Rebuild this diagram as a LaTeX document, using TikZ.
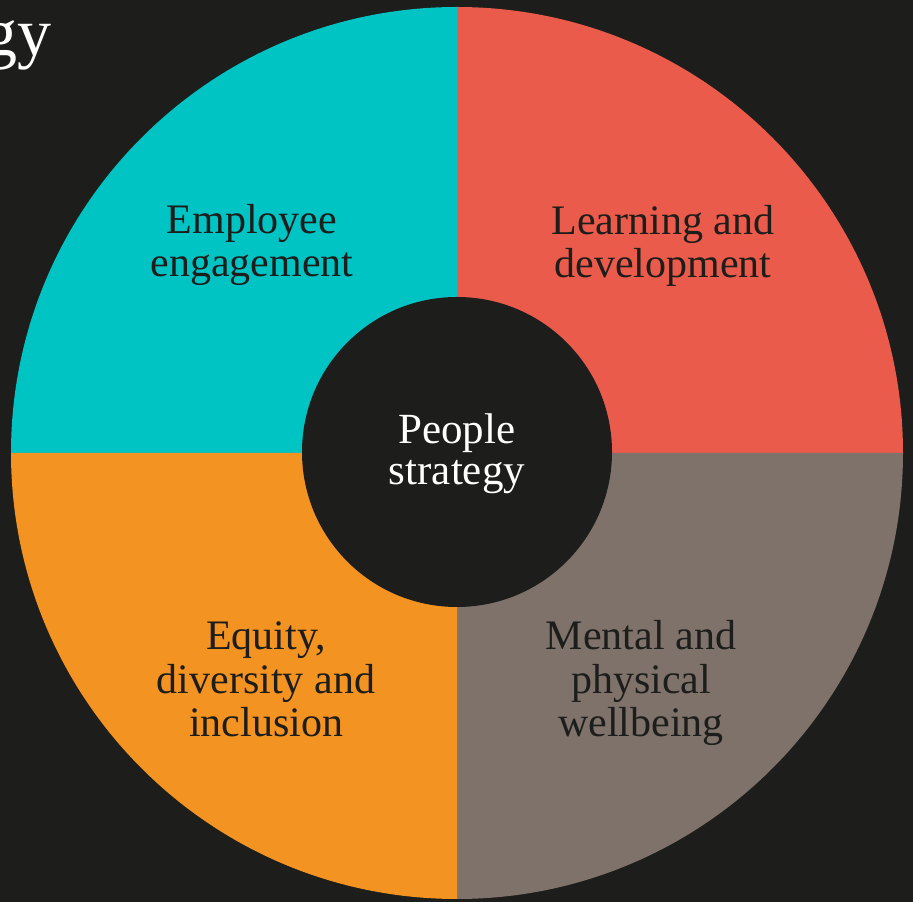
\documentclass[tikz,border=0pt]{standalone}
\usepackage{fontspec}
\setmainfont{Liberation Serif}
\definecolor{bgdark}{HTML}{1D1D1B}
\definecolor{qcyan}{HTML}{00C4C4}
\definecolor{qcoral}{HTML}{EA5B4C}
\definecolor{qorange}{HTML}{F39322}
\definecolor{qgrey}{HTML}{7E726B}
\tikzset{
  quadlabel/.style={align=center, text=bgdark, inner sep=0pt, anchor=base,
    font=\fontsize{42}{43.5}\selectfont},
  hublabel/.style={align=center, text=white, inner sep=0pt, anchor=base,
    font=\fontsize{43}{41}\selectfont},
}
\begin{document}
\begin{tikzpicture}[x=1pt,y=1pt]
  \fill[bgdark] (0,0) rectangle (913,902);
  \useasboundingbox (0,0) rectangle (913,902);
  \coordinate (c) at (457,449);
  % quadrants
  \fill[qcyan]   (c) -- ++(180:446) arc[start angle=180,end angle=90,radius=446] -- cycle;
  \fill[qcoral]  (c) -- ++(90:446)  arc[start angle=90,end angle=0,radius=446] -- cycle;
  \fill[qgrey]   (c) -- ++(0:446)   arc[start angle=0,end angle=-90,radius=446] -- cycle;
  \fill[qorange] (c) -- ++(270:446) arc[start angle=270,end angle=180,radius=446] -- cycle;
  % hub
  \node[circle, fill=bgdark, minimum size=310pt, inner sep=0pt] (hub) at (457,450) {};
  % labels (anchor base = baseline of last line)
  \node[quadlabel] (ee) at (252,625) {Employee\\engagement};
  \node[quadlabel] (ld) at (663,624) {Learning and\\development};
  \node[quadlabel] (edi) at (266,165) {Equity,\\diversity and\\inclusion};
  \node[quadlabel] (mpw) at (641,165) {Mental and\\physical\\wellbeing};
  \node[hublabel] (ps) at (457,417) {People\\strategy};
  % title fragment
  \node[text=white, inner sep=0pt, anchor=base east, font=\fontsize{68}{70}\selectfont] (title) at (52,846) {gy};
\end{tikzpicture}
\end{document}
